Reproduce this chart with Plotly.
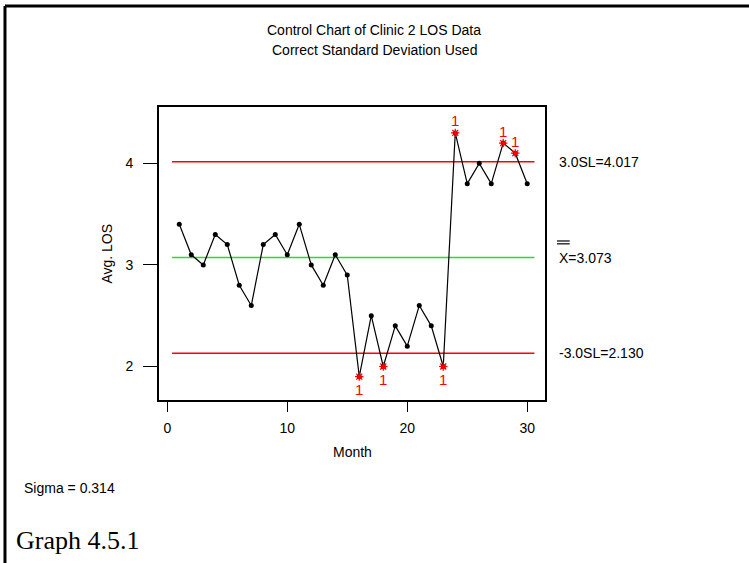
import plotly.graph_objects as go

# ---- data ----
months = list(range(1, 31))
avg_los = [3.4, 3.1, 3.0, 3.3, 3.2, 2.8, 2.6, 3.2, 3.3, 3.1,
           3.4, 3.0, 2.8, 3.1, 2.9, 1.9, 2.5, 2.0, 2.4, 2.2,
           2.6, 2.4, 2.0, 4.3, 3.8, 4.0, 3.8, 4.2, 4.1, 3.8]
ucl = 4.017
center = 3.073
lcl = 2.130
sigma = 0.314
limit_span = [0.4, 30.6]
x_ticks = [0, 10, 20, 30]
y_ticks = [2, 3, 4]

title_lines = ["Control Chart of Clinic 2 LOS Data", "Correct Standard Deviation Used"]
x_title = "Month"
y_title = "Avg. LOS"
graph_label = "Graph 4.5.1"

FONT = "Liberation Sans, Arial, Helvetica, sans-serif"

flag_x = [m for m, v in zip(months, avg_los) if v > ucl or v < lcl]
flag_y = [v for v in avg_los if v > ucl or v < lcl]

fig = go.Figure()

# control lines
fig.add_trace(go.Scatter(x=limit_span, y=[ucl, ucl], mode="lines",
                         line=dict(color="#ff0000", width=1.5), hoverinfo="skip"))
fig.add_trace(go.Scatter(x=limit_span, y=[lcl, lcl], mode="lines",
                         line=dict(color="#ff0000", width=1.5), hoverinfo="skip"))
fig.add_trace(go.Scatter(x=limit_span, y=[center, center], mode="lines",
                         line=dict(color="#22e022", width=1.5), hoverinfo="skip"))

# data
fig.add_trace(go.Scatter(x=months, y=avg_los, mode="lines+markers",
                         line=dict(color="black", width=1.2),
                         marker=dict(color="black", size=5, symbol="circle")))

# flagged points
fig.add_trace(go.Scatter(x=flag_x, y=flag_y, mode="markers",
                         marker=dict(symbol="asterisk-open", size=7, color="#ff0000",
                                     line=dict(color="#ff0000", width=1.2))))

annotations = []
for fx, fy in zip(flag_x, flag_y):
    above = fy > ucl
    annotations.append(dict(x=fx, y=fy, xref="x", yref="y", text="1", showarrow=False,
                            yshift=12 if above else -13,
                            font=dict(family=FONT, size=15, color="#ff0000")))

# right-side limit labels
annotations.append(dict(x=1.031, y=ucl, xref="paper", yref="y", xanchor="left",
                        text=f"3.0SL={ucl:.3f}", showarrow=False,
                        font=dict(family=FONT, size=14, color="black")))
annotations.append(dict(x=1.031, y=center, xref="paper", yref="y", xanchor="left",
                        text=f"X={center:.3f}", showarrow=False,
                        font=dict(family=FONT, size=14, color="black")))
annotations.append(dict(x=1.031, y=lcl, xref="paper", yref="y", xanchor="left",
                        text=f"-3.0SL={lcl:.3f}", showarrow=False,
                        font=dict(family=FONT, size=14, color="black")))

# titles
annotations.append(dict(x=0.557, y=1.2628, xref="paper", yref="paper", text=title_lines[0],
                        showarrow=False, yanchor="middle",
                        font=dict(family=FONT, size=14, color="black")))
annotations.append(dict(x=0.557, y=1.1945, xref="paper", yref="paper", text=title_lines[1],
                        showarrow=False, yanchor="middle",
                        font=dict(family=FONT, size=14, color="black")))
annotations.append(dict(x=0.5, y=-0.1775, xref="paper", yref="paper", text=x_title,
                        showarrow=False, yanchor="middle",
                        font=dict(family=FONT, size=14, color="black")))
annotations.append(dict(x=-0.137, y=0.5, xref="paper", yref="paper", text=y_title,
                        showarrow=False, textangle=-90, xanchor="center", yanchor="middle",
                        font=dict(family=FONT, size=14, color="black")))
annotations.append(dict(x=-0.355, y=-0.300, xref="paper", yref="paper", xanchor="left",
                        text=f"Sigma = {sigma:.3f}", showarrow=False, yanchor="middle",
                        font=dict(family=FONT, size=14, color="black")))
annotations.append(dict(x=-0.375, y=-0.478, xref="paper", yref="paper", xanchor="left",
                        text=graph_label, showarrow=False, yanchor="middle",
                        font=dict(family="Liberation Serif, Times New Roman, serif", size=26,
                                  color="black")))

shapes = [
    # double bar over X
    dict(type="line", xref="paper", yref="paper", x0=1.031, x1=1.064, y0=0.5427, y1=0.5427,
         line=dict(color="black", width=1.2)),
    dict(type="line", xref="paper", yref="paper", x0=1.031, x1=1.064, y0=0.5330, y1=0.5330,
         line=dict(color="black", width=1.2)),
    # outer page frame (top and left)
    dict(type="line", xref="paper", yref="paper", x0=-0.399, x1=1.53, y0=1.3447, y1=1.3447,
         line=dict(color="black", width=3)),
    dict(type="line", xref="paper", yref="paper", x0=-0.399, x1=-0.399, y0=1.3447, y1=-0.56,
         line=dict(color="black", width=3)),
]

fig.update_layout(
    width=749, height=563,
    margin=dict(l=159, r=204, t=107, b=163),
    paper_bgcolor="white", plot_bgcolor="white",
    showlegend=False,
    annotations=annotations,
    shapes=shapes,
    font=dict(family=FONT, size=14, color="black"),
)
fig.update_xaxes(range=[-0.69, 31.48], tickvals=x_ticks, ticks="outside", ticklen=10,
                 tickwidth=1.3, tickcolor="black", showgrid=False, zeroline=False,
                 showline=True, linecolor="black", linewidth=1.6, mirror=True,
                 ticklabelstandoff=4, tickfont=dict(family=FONT, size=14, color="black"))
fig.update_yaxes(range=[1.67, 4.555], tickvals=y_ticks, ticks="outside", ticklen=14,
                 tickwidth=1.3, tickcolor="black", showgrid=False, zeroline=False,
                 showline=True, linecolor="black", linewidth=1.6, mirror=True,
                 ticklabelstandoff=7, tickfont=dict(family=FONT, size=14, color="black"))

fig.write_html("out.html", config={"displayModeBar": False},
               post_script="document.body.style.margin='0';document.body.style.overflow='hidden';")
